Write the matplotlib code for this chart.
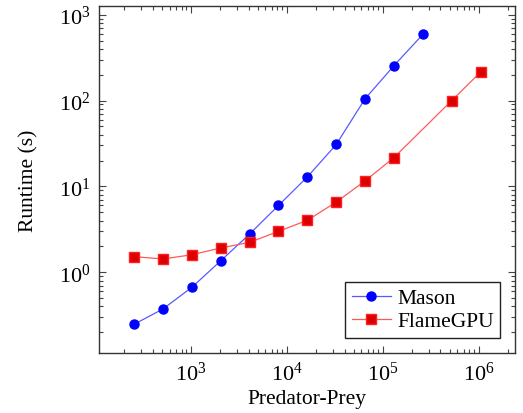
import matplotlib
matplotlib.use("Agg")
import matplotlib.pyplot as plt
from matplotlib.ticker import LogLocator, NullFormatter

mason_x = [256, 512, 1024, 2048, 4096, 8192, 16384, 32768, 65536, 131072, 262144]
mason_y = [0.248, 0.374, 0.668, 1.36, 2.79, 6.0, 12.9, 30.8, 105, 255, 590]
flame_x = [256, 512, 1024, 2048, 4096, 8192, 16384, 32768, 65536, 131072, 524288, 1048576]
flame_y = [1.52, 1.43, 1.60, 1.92, 2.23, 3.0, 4.03, 6.57, 11.6, 21.7, 100, 215]

plt.rcParams['font.family'] = ['Liberation Serif', 'DejaVu Serif']
plt.rcParams['mathtext.fontset'] = 'cm'

fig = plt.figure(figsize=(5.23, 4.14), dpi=100)
ax = fig.add_axes([0.189, 0.145, 0.796, 0.838])

ax.plot(mason_x, mason_y, color=(0.35, 0.35, 1.0), lw=0.9, marker='o', ms=6.5,
        mfc='#0000ff', mec='#0000ff', label='Mason')
ax.plot(flame_x, flame_y, color=(1.0, 0.35, 0.35), lw=0.9, marker='s', ms=6.5,
        mfc='#dd0000', mec='#ff2020', label='FlameGPU')

ax.set_xscale('log')
ax.set_yscale('log')
ax.set_xlim(110, 2.4e6)
ax.set_ylim(0.115, 1.26e3)

ax.xaxis.set_major_locator(LogLocator(base=10, numticks=20))
ax.yaxis.set_major_locator(LogLocator(base=10, numticks=20))
ax.xaxis.set_minor_locator(LogLocator(base=10, subs=range(2, 10), numticks=20))
ax.yaxis.set_minor_locator(LogLocator(base=10, subs=range(2, 10), numticks=20))
ax.xaxis.set_minor_formatter(NullFormatter())
ax.yaxis.set_minor_formatter(NullFormatter())

ax.tick_params(which='both', direction='in', top=True, right=True, labelsize=16, width=0.8, color='#444444')
ax.tick_params(which='major', length=5, pad=6)
ax.tick_params(which='minor', length=3)
for s in ax.spines.values():
    s.set_linewidth(1.0)
    s.set_color('#333333')

ax.set_xlabel('Predator-Prey', fontsize=15.5, labelpad=3)
ax.set_ylabel('Runtime (s)', fontsize=15.5, labelpad=15)

leg = ax.legend(loc='lower right', fontsize=15.5, fancybox=False, framealpha=1,
                edgecolor='#222222', borderpad=0.3, handlelength=1.8,
                handletextpad=0.3, labelspacing=0.15, borderaxespad=0.7)
leg.get_frame().set_linewidth(1.0)

fig.savefig('out.png', dpi=100)
